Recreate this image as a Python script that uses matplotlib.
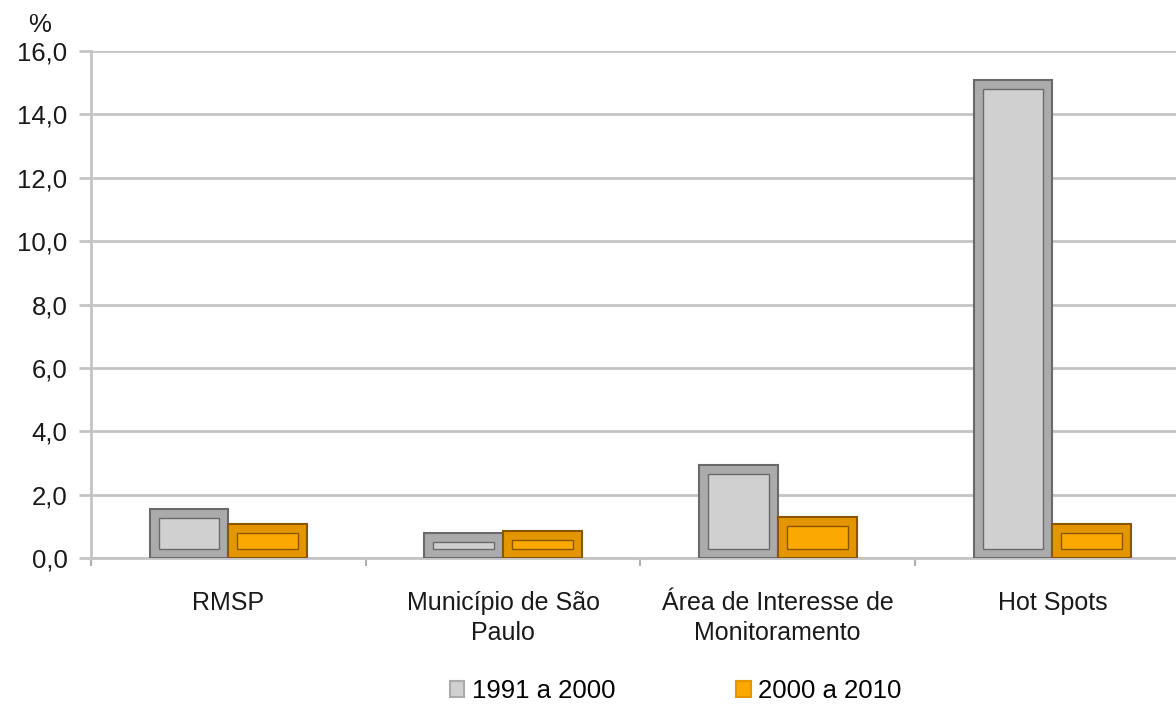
import numpy as np
import matplotlib
matplotlib.use('Agg')
import matplotlib.pyplot as plt
from matplotlib.patches import Patch

plt.rcParams['font.family'] = ['Liberation Sans', 'DejaVu Sans']

# dados
categorias = ['RMSP', 'Município de São\nPaulo', 'Área de Interesse de\nMonitoramento', 'Hot Spots']
serie_1991 = [1.55, 0.79, 2.93, 15.08]
serie_2000 = [1.07, 0.85, 1.29, 1.07]
nomes = ['1991 a 2000', '2000 a 2010']
yticks = [0, 2, 4, 6, 8, 10, 12, 14, 16]

fig = plt.figure(figsize=(11.76, 7.05), dpi=100)
ax = fig.add_axes([91/1176, 147/705, 4*274.7/1176, 507/705])

x = np.arange(len(categorias))
w = 0.287
# bevel size in data units (approx 9 px)
bx = 9/274.7
by = 9/31.7

estilos = [
    # frame, face, outline
    ('#ababab', '#d0d0d0', '#6a6a6a'),
    ('#e39600', '#fba800', '#8a5600'),
]

for serie, off, (frame, face, dark) in zip([serie_1991, serie_2000], [-w/2, w/2], estilos):
    vals = np.array(serie)
    ax.bar(x + off, vals, width=w, color=frame, edgecolor=dark, linewidth=1.5, zorder=3)
    inner_h = np.maximum(vals - 2*by, 0.05)
    ax.bar(x + off, inner_h, width=w - 2*bx, bottom=by, color=face,
           edgecolor=dark, linewidth=1.0, zorder=4)

ax.set_xlim(-0.5, len(categorias) - 0.5)
ax.set_ylim(0, 16)
ax.set_yticks(yticks)
ax.set_yticklabels([('%.1f' % v).replace('.', ',') for v in yticks])
ax.yaxis.grid(True, color='#c4c4c4', linewidth=2, zorder=0)
ax.set_axisbelow(True)

ax.set_xticks(np.arange(len(categorias) + 1) - 0.5)
ax.set_xticklabels([])
ax.set_xticks(x, minor=True)
ax.set_xticklabels(categorias, minor=True, fontsize=18, color='#1a1a1a', linespacing=1.3)
ax.tick_params(axis='x', which='minor', length=0, pad=24)
ax.tick_params(axis='x', which='major', length=6, color='#b0b0b0', width=1.5)
ax.tick_params(axis='y', length=9, color='#c4c4c4', width=2, labelsize=18.5,
               labelcolor='#1a1a1a', pad=8)

for s in ['top', 'right']:
    ax.spines[s].set_visible(False)
for s in ['left', 'bottom']:
    ax.spines[s].set_color('#c4c4c4')
    ax.spines[s].set_linewidth(2)

fig.text(40/1176, 1 - 25/705, '%', fontsize=18.5, ha='center', va='center', color='#1a1a1a')

handles = [Patch(facecolor=estilos[0][1], edgecolor=estilos[0][0], linewidth=1.5),
           Patch(facecolor=estilos[1][1], edgecolor=estilos[1][0], linewidth=1.5)]
fig.legend(handles, nomes, loc='center', bbox_to_anchor=(676/1176, 1 - 691/705), ncol=2,
           frameon=False, fontsize=18.5, handlelength=0.55, handleheight=0.55,
           handletextpad=0.3, columnspacing=4.7)

fig.savefig('out.png', dpi=100)
